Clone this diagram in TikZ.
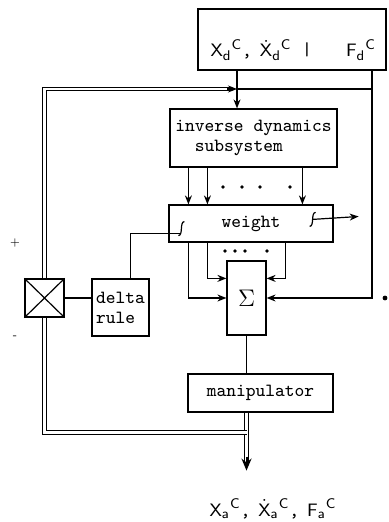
\documentclass[tikz,border=0pt]{standalone}
\usepackage{amsmath,amssymb}
\usepackage{tikz}
\usetikzlibrary{arrows.meta,calc,positioning}

\newcommand{\sig}[2]{$\mathsf{#1}_{\mathsf{#2}}{}^{\mathsf{C}}$}
\newcommand{\dsig}[2]{$\dot{\mathsf{#1}}_{\mathsf{#2}}{}^{\mathsf{C}}$}
% 可调权值记号
\newcommand{\wmark}[1]{\draw[-] (#1) ++(-3,7) .. controls +(5,0) and +(-5,0) .. ++(6,-14);}

\begin{document}
\begin{tikzpicture}[x=0.5pt,y=-0.5pt,->,>={Stealth[length=4.5pt,width=3.5pt]},semithick,
    font=\fontsize{9.3}{10}\selectfont\ttfamily]
    % 设置样式
    \tikzstyle{block}=[draw=black,fill=white,inner sep=2pt]
    \tikzstyle{lbl}=[inner sep=0pt]
    \tikzstyle{dbl}=[-,double,double distance=1.3pt,line width=0.5pt]
    \useasboundingbox (0,0) rectangle (388,522);

    % 定义方框
    \node[block,minimum width=94pt,minimum height=30.5pt] (top) at (292,39.5) {};
    \node[lbl] (dlab) at (251,50) {\sig{X}{d},\hspace{4pt}\dsig{X}{d}};
    \node[lbl] (sep) at (307,50) {|};
    \node[lbl] (flab) at (361,50) {\sig{F}{d}};
    \node[block,align=left,minimum width=83.5pt,minimum height=29pt] (inv) at (253.5,138)
        {inverse dynamics\\\ \ subsystem};
    \node[block,minimum width=82pt,minimum height=18.5pt] (wgt) at (251,223.5) {weight};
    \node[block,minimum width=19.5pt,minimum height=37pt,font=\fontsize{13}{13}\selectfont]
        (sum) at (246.5,298) {$\Sigma$};
    \node[block,minimum width=72.5pt,minimum height=19pt] (man) at (260.5,393) {manipulator};
    \node[block,align=left,minimum width=28.5pt,minimum height=28.5pt] (delta) at (120.5,307.5)
        {delta\\rule};
    \node[block,minimum width=19.5pt,minimum height=19pt] (cmp) at (44.5,298) {};
    \node[lbl,font=\tiny] (plus) at (15,243) {+};
    \node[lbl,font=\tiny] (minus) at (15,337) {-};
    \node[lbl] (out) at (273,509)
        {\sig{X}{a},\hspace{4pt}\dsig{X}{a},\hspace{4pt}\sig{F}{a}};

    % 定义连线
    \draw[-] (cmp.north west) -- (cmp.south east) (cmp.north east) -- (cmp.south west);
    \coordinate (j) at (237,89);
    \coordinate (f) at (372,89);
    \draw[-] (top.south -| j) -- (j);
    \draw (j) -- (j |- inv.north);
    \draw[-] (j) -- (f);
    \draw (top.south -| f) |- (sum.east);
    \draw[dbl] (cmp.north) |- ($(j)+(-6,0)$);
    \draw ($(j)+(-10,0)$) -- (j);

    \foreach \dx [count=\i] in {19,38,133} {
        \coordinate (a\i) at ($(inv.south west)+(\dx,0)$);
        \draw (a\i) -- (a\i |- wgt.north);
    }
    \foreach \x in {223,242,260,290}
        \fill (\x,187) circle (0.9pt);

    \draw ($(wgt.south west)+(20,0)$) |- (sum.west);
    \draw ($(wgt.south west)+(39,0)$) |- ($(sum.north west)+(0,18)$);
    \draw ($(wgt.south east)+(-48,0)$) |- ($(sum.north east)+(0,18)$);
    \foreach \x in {225,235,245,267}
        \fill (\x,251) circle (0.9pt);

    \draw[-] (sum.south) -- (sum.south |- man.north);
    \coordinate (fb) at ($(sum.south |- man.south)+(0,20)$);
    \coordinate (tip) at ($(sum.south |- man.south)+(0,58)$);
    \draw[dbl] (sum.south |- man.south) -- ($(tip)+(0,-10)$);
    \draw[line width=1pt,-{Stealth[length=6pt,width=5pt]}] ($(tip)+(0,-14)$) -- (tip);
    \draw[dbl] (fb) -| (cmp.south);

    \draw[-] (cmp.east) -- (cmp.east -| delta.west);
    \coordinate (ml) at ($(wgt.south west)+(13,-14)$);
    \coordinate (mr) at ($(wgt.north east)+(-21,15)$);
    \coordinate (wo) at ($(wgt.east)+(25,-7)$);
    \draw[-] ($(delta.north)+(10,0)$) |- ($(ml)+(-1,5)$);
    \wmark{ml}
    \wmark{mr}
    \draw (mr) -- (wo);
    \fill (385,298) circle (1.2pt);
\end{tikzpicture}
\end{document}
